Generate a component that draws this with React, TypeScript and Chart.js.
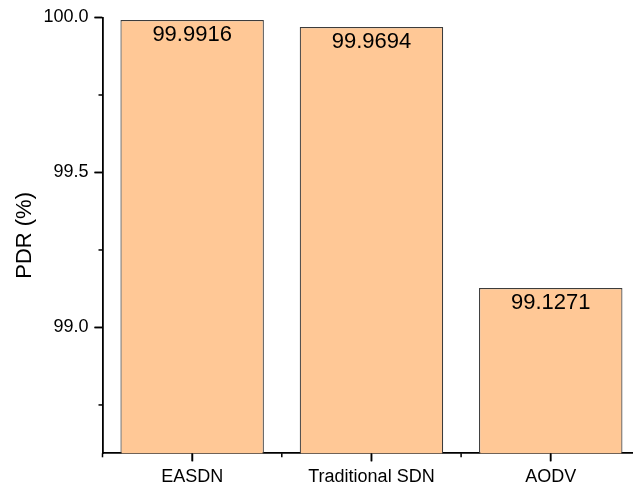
import React, { useEffect, useRef } from "react";
import { Chart, registerables } from "chart.js";

Chart.register(...registerables);

const categories = ["EASDN", "Traditional SDN", "AODV"];
const pdrValues = [99.9916, 99.9694, 99.1271];
const valueLabels = ["99.9916", "99.9694", "99.1271"];
const yMajorTicks = [99.0, 99.5, 100.0];
const yMinorTicks = [98.75, 99.25, 99.75];

const FONT = "'Liberation Sans', Arial, sans-serif";
const CANVAS_W = 660;
const CANVAS_H = 485;

export default function App() {
  const ref = useRef<HTMLCanvasElement | null>(null);

  useEffect(() => {
    if (!ref.current) return;
    const axisDecor = {
      id: "axisDecor",
      afterDraw(chart: any) {
        const ctx = chart.ctx;
        const y = chart.scales.y;
        const x = chart.scales.x;
        const area = chart.chartArea;
        ctx.save();
        ctx.strokeStyle = "#000";
        ctx.lineWidth = 1.5;
        ctx.lineCap = "butt";
        const tickLine = (x1: number, y1: number, x2: number, y2: number) => {
          ctx.beginPath();
          ctx.moveTo(x1, y1);
          ctx.lineTo(x2, y2);
          ctx.stroke();
        };
        yMajorTicks.forEach((v) => {
          const py = y.getPixelForValue(v);
          tickLine(area.left - 8, py, area.left, py);
        });
        yMinorTicks.forEach((v) => {
          const py = y.getPixelForValue(v);
          tickLine(area.left - 4, py, area.left, py);
        });
        categories.forEach((_, i) => {
          const px = x.getPixelForTick(i);
          tickLine(px, area.bottom, px, area.bottom + 8);
        });
        const bounds: number[] = [area.left];
        for (let i = 0; i < categories.length - 1; i++) {
          bounds.push((x.getPixelForTick(i) + x.getPixelForTick(i + 1)) / 2);
        }
        bounds.push(area.right);
        bounds.forEach((px) => tickLine(px, area.bottom, px, area.bottom + 4));
        // value labels
        const meta = chart.getDatasetMeta(0);
        ctx.fillStyle = "#000";
        ctx.font = `22px ${FONT}`;
        ctx.textAlign = "center";
        ctx.textBaseline = "alphabetic";
        meta.data.forEach((bar: any, i: number) => {
          ctx.fillText(valueLabels[i], bar.x, bar.y + 21);
        });
        ctx.restore();
      },
    };

    const chart = new Chart(ref.current, {
      type: "bar",
      data: {
        labels: categories,
        datasets: [
          {
            data: pdrValues,
            backgroundColor: "#FFC896",
            borderColor: "#3c3c3c",
            borderWidth: 1.2,
            borderSkipped: false,
            barPercentage: 0.8,
            categoryPercentage: 1.0,
          },
        ],
      },
      plugins: [axisDecor],
      options: {
        animation: false,
        responsive: false,
        devicePixelRatio: 1,
        layout: { padding: { top: 17.5, right: CANVAS_W - 640.4, left: 0, bottom: 0 } },
        plugins: { legend: { display: false }, tooltip: { enabled: false } },
        scales: {
          x: {
            type: "category",
            afterFit: (s: any) => {
              s.height = CANVAS_H - 453.3;
            },
            grid: {
              offset: false,
              drawOnChartArea: false,
              drawTicks: true,
              tickLength: 8,
              color: "#000",
              tickWidth: 1.5,
            },
            border: { display: true, color: "#000", width: 1.8 },
            ticks: {
              color: "#000",
              font: { family: FONT, size: 18 },
              padding: 5,
              maxRotation: 0,
              autoSkip: false,
            },
          },
          y: {
            min: 98.594,
            max: 100,
            afterFit: (s: any) => {
              s.width = 102.5;
            },
            afterBuildTicks: (s: any) => {
              s.ticks = yMajorTicks.map((v) => ({ value: v }));
            },
            grid: {
              drawOnChartArea: false,
              drawTicks: true,
              tickLength: 8,
              color: "#000",
              tickWidth: 1.5,
            },
            border: { display: true, color: "#000", width: 1.8 },
            ticks: {
              color: "#000",
              font: { family: FONT, size: 18 },
              padding: 6,
              callback: (v: any) => Number(v).toFixed(1),
            },
            title: {
              display: true,
              text: "PDR (%)",
              color: "#000",
              font: { family: FONT, size: 22 },
              padding: { top: 12, bottom: 0 },
            },
          },
        },
      },
    });
    return () => chart.destroy();
  }, []);

  return (
    <div
      style={{
        position: "fixed",
        left: 0,
        top: 0,
        width: 633,
        height: 485,
        overflow: "hidden",
        background: "#fff",
      }}
    >
      <canvas ref={ref} width={CANVAS_W} height={CANVAS_H} style={{ display: "block" }} />
    </div>
  );
}
